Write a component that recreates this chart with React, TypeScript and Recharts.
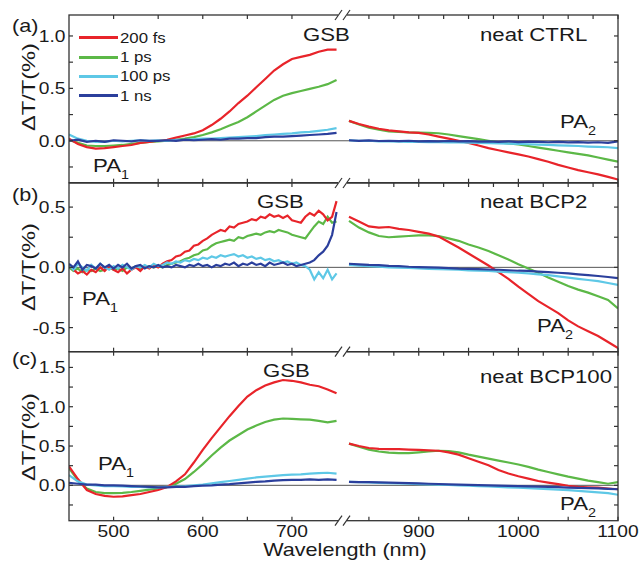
import React from 'react';
import { LineChart, Line, XAxis, YAxis, ReferenceLine, Legend } from 'recharts';

// wavelength grids (nm)
const wlLeft = [450, 460, 470, 480, 490, 500, 510, 520, 530, 540, 550, 560, 570, 580, 590, 600, 610, 620, 630, 640, 650, 660, 670, 680, 690, 700, 710, 720, 730, 740, 750];
const wlFine = [450, 455, 460, 465, 470, 475, 480, 485, 490, 495, 500, 505, 510, 515, 520, 525, 530, 535, 540, 545, 550, 555, 560, 565, 570, 575, 580, 585, 590, 595, 600, 605, 610, 615, 620, 625, 630, 635, 640, 645, 650, 655, 660, 665, 670, 675, 680, 685, 690, 695, 700, 705, 710, 715, 720, 725, 730, 735, 740, 745, 750];
const wlRight = [830, 840, 850, 860, 870, 880, 890, 900, 910, 920, 930, 940, 950, 960, 970, 980, 990, 1000, 1010, 1020, 1030, 1040, 1050, 1060, 1070, 1080, 1090, 1100];

const delays = ['200 fs', '1 ps', '100 ps', '1 ns'];

// tick values
const xTicksLeft = [500, 550, 600, 650, 700];
const xTicksRight = [850, 875, 900, 925, 950, 975, 1000, 1025, 1050, 1075, 1100];
const yTicksA = [-0.25, 0, 0.25, 0.5, 0.75, 1.0];
const yTicksB = [-0.5, -0.25, 0, 0.25, 0.5];
const yTicksC = [-0.25, 0, 0.25, 0.5, 0.75, 1.0, 1.25, 1.5];

// (a) neat CTRL
const a200fs = [0.02, -0.03, -0.06, -0.075, -0.07, -0.06, -0.05, -0.04, -0.02, -0.01, 0.0, 0.01, 0.03, 0.05, 0.07, 0.1, 0.15, 0.21, 0.28, 0.36, 0.43, 0.51, 0.59, 0.67, 0.73, 0.78, 0.8, 0.82, 0.85, 0.87, 0.87];
const a1ps = [0.01, -0.02, -0.045, -0.05, -0.05, -0.045, -0.04, -0.03, -0.02, -0.01, -0.005, 0.0, 0.01, 0.02, 0.035, 0.055, 0.08, 0.11, 0.145, 0.18, 0.225, 0.28, 0.335, 0.39, 0.43, 0.455, 0.475, 0.495, 0.515, 0.54, 0.58];
const a100ps = [0.06, 0.02, 0.0, -0.01, -0.01, 0.0, -0.005, 0.0, 0.005, 0.0, 0.005, 0.0, 0.01, 0.01, 0.015, 0.02, 0.02, 0.025, 0.03, 0.035, 0.04, 0.045, 0.055, 0.06, 0.065, 0.07, 0.08, 0.085, 0.095, 0.105, 0.12];
const a1ns = [0.0, 0.01, -0.01, 0.0, -0.01, 0.005, 0.0, -0.005, 0.005, 0.0, 0.0, 0.005, 0.0, 0.01, 0.005, 0.01, 0.015, 0.01, 0.02, 0.02, 0.025, 0.025, 0.035, 0.04, 0.04, 0.045, 0.05, 0.055, 0.06, 0.065, 0.075];
const a200fsR = [0.19, 0.16, 0.135, 0.115, 0.1, 0.09, 0.08, 0.075, 0.06, 0.04, 0.02, 0.0, -0.02, -0.045, -0.07, -0.09, -0.11, -0.13, -0.15, -0.175, -0.2, -0.23, -0.255, -0.28, -0.3, -0.32, -0.345, -0.37];
const a1psR = [0.19, 0.155, 0.125, 0.105, 0.09, 0.085, 0.08, 0.078, 0.075, 0.072, 0.06, 0.045, 0.03, 0.015, 0.0, -0.015, -0.025, -0.035, -0.05, -0.065, -0.08, -0.095, -0.11, -0.125, -0.14, -0.16, -0.18, -0.2];
const a100psR = [0.005, 0.0, 0.0, -0.005, -0.005, -0.008, -0.01, -0.01, -0.012, -0.012, -0.015, -0.015, -0.018, -0.02, -0.022, -0.025, -0.028, -0.03, -0.033, -0.036, -0.04, -0.043, -0.047, -0.05, -0.055, -0.058, -0.062, -0.07];
const a1nsR = [0.005, 0.0, 0.003, -0.002, 0.0, -0.003, 0.0, -0.005, -0.003, -0.005, -0.002, -0.006, -0.004, -0.008, -0.005, -0.01, -0.006, -0.012, -0.008, -0.01, -0.014, -0.01, -0.015, -0.012, -0.018, -0.014, -0.02, -0.005];

// (b) neat BCP2 (left part on the 5 nm grid)
const b200fs = [0.02, -0.02, -0.05, -0.03, -0.06, -0.02, -0.04, 0.0, -0.03, 0.01, -0.02, -0.04, -0.01, -0.05, -0.02, 0.0, -0.03, 0.01, -0.01, 0.02, 0.0, 0.03, 0.05, 0.06, 0.09, 0.1, 0.13, 0.14, 0.18, 0.19, 0.22, 0.24, 0.27, 0.29, 0.31, 0.3, 0.34, 0.33, 0.36, 0.37, 0.38, 0.4, 0.39, 0.42, 0.41, 0.44, 0.42, 0.43, 0.41, 0.43, 0.39, 0.38, 0.37, 0.42, 0.45, 0.43, 0.47, 0.44, 0.39, 0.42, 0.55];
const b1ps = [0.0, -0.03, -0.01, -0.04, -0.02, -0.03, -0.01, -0.03, -0.02, 0.0, -0.02, -0.01, -0.03, 0.0, -0.01, 0.01, -0.01, 0.0, 0.01, 0.0, 0.01, 0.0, 0.02, 0.03, 0.04, 0.05, 0.07, 0.08, 0.1, 0.11, 0.14, 0.15, 0.18, 0.2, 0.21, 0.22, 0.23, 0.22, 0.25, 0.24, 0.26, 0.27, 0.28, 0.27, 0.29, 0.3, 0.29, 0.31, 0.3, 0.29, 0.27, 0.26, 0.25, 0.24, 0.29, 0.34, 0.38, 0.36, 0.42, 0.37, 0.38];
const b100ps = [0.02, -0.02, 0.03, 0.0, -0.03, 0.02, -0.01, 0.03, 0.0, -0.02, 0.01, -0.01, 0.02, 0.0, -0.02, 0.01, 0.0, 0.02, 0.0, 0.03, 0.01, 0.02, 0.04, 0.03, 0.05, 0.04, 0.06, 0.05, 0.07, 0.06, 0.08, 0.07, 0.09, 0.08, 0.1, 0.09, 0.1, 0.11, 0.09, 0.1, 0.08, 0.09, 0.07, 0.08, 0.06, 0.07, 0.05, 0.06, 0.04, 0.05, 0.03, 0.04, 0.02, 0.01, -0.02, -0.1, -0.04, -0.09, -0.02, -0.1, -0.05];
const b1ns = [0.03, 0.0, 0.05, -0.02, 0.02, 0.01, -0.01, 0.03, 0.0, 0.02, -0.01, 0.02, 0.0, 0.03, -0.01, 0.01, 0.02, -0.01, 0.01, 0.0, 0.02, 0.0, 0.01, 0.0, 0.02, 0.01, 0.0, 0.02, 0.01, 0.03, 0.01, 0.02, 0.0, 0.02, 0.01, 0.03, 0.02, 0.04, 0.01, 0.03, 0.02, 0.04, 0.02, 0.03, 0.01, 0.04, 0.02, 0.03, 0.04, 0.02, 0.03, 0.01, 0.02, 0.03, 0.04, 0.06, 0.1, 0.13, 0.18, 0.27, 0.46];
const b200fsR = [0.42, 0.38, 0.34, 0.33, 0.335, 0.32, 0.31, 0.295, 0.28, 0.255, 0.21, 0.165, 0.115, 0.065, 0.015, -0.04, -0.095, -0.16, -0.22, -0.28, -0.33, -0.38, -0.44, -0.49, -0.53, -0.57, -0.62, -0.67];
const b1psR = [0.385, 0.33, 0.29, 0.26, 0.25, 0.255, 0.26, 0.265, 0.265, 0.26, 0.24, 0.22, 0.19, 0.165, 0.135, 0.1, 0.065, 0.025, -0.01, -0.045, -0.085, -0.12, -0.155, -0.185, -0.21, -0.24, -0.27, -0.34];
const b100psR = [0.02, 0.015, 0.01, 0.005, 0.0, -0.002, -0.005, -0.008, -0.012, -0.015, -0.018, -0.02, -0.025, -0.028, -0.03, -0.035, -0.04, -0.045, -0.05, -0.058, -0.065, -0.075, -0.085, -0.095, -0.105, -0.115, -0.13, -0.145];
const b1nsR = [0.03, 0.025, 0.02, 0.018, 0.012, 0.01, 0.005, 0.002, 0.0, -0.003, -0.006, -0.01, -0.012, -0.015, -0.018, -0.02, -0.024, -0.028, -0.03, -0.035, -0.04, -0.045, -0.05, -0.058, -0.065, -0.072, -0.08, -0.09];

// (c) neat BCP100
const c200fs = [0.24, 0.08, -0.06, -0.11, -0.135, -0.145, -0.14, -0.125, -0.11, -0.085, -0.06, -0.02, 0.05, 0.14, 0.29, 0.45, 0.6, 0.74, 0.88, 1.01, 1.13, 1.21, 1.27, 1.31, 1.34, 1.33, 1.31, 1.28, 1.26, 1.22, 1.17];
const c1ps = [0.22, 0.06, -0.04, -0.085, -0.1, -0.1, -0.095, -0.085, -0.07, -0.055, -0.04, -0.02, 0.02, 0.08, 0.17, 0.27, 0.38, 0.48, 0.57, 0.64, 0.71, 0.76, 0.805, 0.835, 0.85, 0.845, 0.84, 0.835, 0.82, 0.8, 0.82];
const c100ps = [0.13, 0.05, 0.01, 0.0, -0.01, -0.01, -0.015, -0.02, -0.02, -0.025, -0.025, -0.02, -0.015, -0.01, 0.0, 0.01, 0.025, 0.04, 0.055, 0.07, 0.085, 0.1, 0.11, 0.12, 0.13, 0.135, 0.14, 0.15, 0.155, 0.16, 0.15];
const c1ns = [0.03, 0.02, 0.01, 0.01, 0.0, 0.0, -0.005, -0.01, -0.015, -0.02, -0.025, -0.025, -0.02, -0.02, -0.01, -0.005, 0.0, 0.01, 0.015, 0.025, 0.035, 0.045, 0.05, 0.06, 0.065, 0.07, 0.07, 0.075, 0.07, 0.075, 0.07];
const c200fsR = [0.53, 0.5, 0.475, 0.465, 0.46, 0.46, 0.455, 0.45, 0.445, 0.44, 0.42, 0.39, 0.345, 0.3, 0.255, 0.195, 0.15, 0.115, 0.085, 0.055, 0.035, 0.015, -0.005, -0.02, -0.025, -0.03, -0.04, -0.05];
const c1psR = [0.53, 0.49, 0.455, 0.43, 0.415, 0.41, 0.41, 0.42, 0.43, 0.44, 0.435, 0.42, 0.39, 0.365, 0.34, 0.315, 0.29, 0.265, 0.235, 0.2, 0.17, 0.14, 0.11, 0.085, 0.06, 0.04, 0.02, 0.04];
const c100psR = [0.045, 0.04, 0.036, 0.032, 0.028, 0.024, 0.02, 0.016, 0.012, 0.008, 0.004, 0.0, -0.005, -0.01, -0.015, -0.02, -0.025, -0.03, -0.036, -0.042, -0.048, -0.055, -0.062, -0.07, -0.08, -0.09, -0.1, -0.12];
const c1nsR = [0.045, 0.042, 0.04, 0.037, 0.034, 0.03, 0.027, 0.024, 0.02, 0.017, 0.013, 0.01, 0.006, 0.003, 0.0, -0.003, -0.006, -0.01, -0.013, -0.017, -0.02, -0.024, -0.028, -0.032, -0.036, -0.04, -0.045, -0.05];

const COLORS = ['#e8242a', '#5cb847', '#5ec8e6', '#2b3f9c'];
const DRAW_ORDER = [1, 0, 2, 3];
const FONT = "'Liberation Sans', Arial, Helvetica, sans-serif";
const INK = '#1a1a1a';
const AXIS = '#333';
const SX = 1.2; // the figure's lettering is a little wide
const PLOT_L = 69;
const PLOT_R = 618;
const PAD_L_SEG = 277; // px left free for the right segment
const PAD_R_SEG = 276;

const toRows = (wl: number[], s: number[][]) =>
  wl.map((w, i) => ({ wl: w, s0: s[0][i], s1: s[1][i], s2: s[2][i], s3: s[3][i] }));

const panels = [
  {
    id: 'a', top: 0, height: 190, plotTop: 15, plotBottom: 182.7,
    yDomain: [-0.4, 1.2], yTicks: yTicksA, legend: true, xLabels: false,
    left: toRows(wlLeft, [a200fs, a1ps, a100ps, a1ns]),
    right: toRows(wlRight, [a200fsR, a1psR, a100psR, a1nsR]),
  },
  {
    id: 'b', top: 176, height: 183, plotTop: 183, plotBottom: 351.7,
    yDomain: [-0.7, 0.7], yTicks: yTicksB, legend: false, xLabels: false,
    left: toRows(wlFine, [b200fs, b1ps, b100ps, b1ns]),
    right: toRows(wlRight, [b200fsR, b1psR, b100psR, b1nsR]),
  },
  {
    id: 'c', top: 344, height: 227, plotTop: 351.7, plotBottom: 520.7,
    yDomain: [-0.45, 1.7], yTicks: yTicksC, legend: false, xLabels: true,
    left: toRows(wlLeft, [c200fs, c1ps, c100ps, c1ns]),
    right: toRows(wlRight, [c200fsR, c1psR, c100psR, c1nsR]),
  },
];

function renderLegend(props: any) {
  const seen: Record<string, any> = {};
  (props.payload || []).forEach((it: any) => {
    if (it.type !== 'none' && delays.includes(it.value) && !seen[it.value]) seen[it.value] = it;
  });
  const items = delays.filter((d) => seen[d]).map((d) => seen[d]);
  return (
    <div style={{ fontFamily: FONT, color: INK }}>
      {items.map((it: any) => (
        <div key={it.value} style={{ height: 19.4, display: 'flex', alignItems: 'center' }}>
          <div style={{ width: 39, height: 3, background: it.color }} />
          <span style={{ marginLeft: 2, fontSize: 14, display: 'inline-block', transform: `scaleX(${SX})`, transformOrigin: 'left center', whiteSpace: 'nowrap' }}>
            {it.value}
          </span>
        </div>
      ))}
    </div>
  );
}

function Panel({ p }: { p: any }) {
  const topY = p.plotTop - p.top;
  const bottomY = p.plotBottom - p.top;
  const mTop = topY;
  const mBottom = p.height - bottomY - 2; // two 1px x axes sit below the plot

  const xTick = (t: any) => {
    const v = t.payload.value;
    const x = t.x;
    return (
      <g>
        {v % 50 === 0 && <line x1={x} x2={x} y1={bottomY} y2={bottomY - 4} stroke={AXIS} strokeWidth={1.2} />}
        <line x1={x} x2={x} y1={topY} y2={topY + 4} stroke={AXIS} strokeWidth={1.2} />
        {p.xLabels && v % 100 === 0 && (
          <g transform={`translate(${x},${bottomY + 16}) scale(${SX},1)`}>
            <text x={0} y={0} textAnchor="middle" fontSize={16} fontFamily={FONT} fill={INK}>{v}</text>
          </g>
        )}
      </g>
    );
  };

  const yTick = (t: any) => {
    const v = t.payload.value;
    const y = t.y;
    const labelled = Math.abs(v * 2 - Math.round(v * 2)) < 1e-6;
    return (
      <g>
        <line x1={PLOT_L} x2={PLOT_L + 4} y1={y} y2={y} stroke={AXIS} strokeWidth={1.2} />
        <line x1={PLOT_R} x2={PLOT_R - 4} y1={y} y2={y} stroke={AXIS} strokeWidth={1.2} />
        {labelled && (
          <g transform={`translate(${PLOT_L - 3.5},${y + 6}) scale(${SX},1)`}>
            <text x={0} y={0} textAnchor="end" fontSize={16} fontFamily={FONT} fill={INK}>{v.toFixed(1)}</text>
          </g>
        )}
      </g>
    );
  };

  return (
    <div style={{ position: 'absolute', left: 0, top: p.top }}>
      <LineChart width={642} height={p.height} margin={{ top: mTop, right: 642 - PLOT_R, bottom: mBottom, left: PLOT_L - 50 }}>
        <XAxis xAxisId="L" type="number" dataKey="wl" domain={[450, 755]} allowDataOverflow
          padding={{ left: 0, right: PAD_R_SEG + 1 }} ticks={xTicksLeft} interval={0} height={1}
          axisLine={false} tickLine={false} tickSize={0} tickMargin={0} tick={xTick} />
        <XAxis xAxisId="R" type="number" dataKey="wl" domain={[826, 1100]} allowDataOverflow
          padding={{ left: PAD_L_SEG - 1, right: 0 }} ticks={xTicksRight} interval={0} height={1}
          axisLine={false} tickLine={false} tickSize={0} tickMargin={0} tick={xTick} />
        <YAxis type="number" domain={p.yDomain} allowDataOverflow ticks={p.yTicks} interval={0} width={50}
          axisLine={false} tickLine={false} tickSize={0} tick={yTick} />
        <ReferenceLine xAxisId="L" y={0} stroke="#555" strokeWidth={1} />
        {DRAW_ORDER.map((i) => (
          <Line key={'L' + i} xAxisId="L" data={p.left} dataKey={'s' + i} name={delays[i]}
            stroke={COLORS[i]} strokeWidth={2.2} dot={false} isAnimationActive={false}
            legendType={p.legend ? 'line' : 'none'} />
        ))}
        {DRAW_ORDER.map((i) => (
          <Line key={'R' + i} xAxisId="R" data={p.right} dataKey={'s' + i} name={delays[i] + ' (NIR)'}
            stroke={COLORS[i]} strokeWidth={2.2} dot={false} isAnimationActive={false} legendType="none" />
        ))}
        {p.legend && (
          <Legend layout="vertical" align="center" verticalAlign="middle" content={renderLegend}
            wrapperStyle={{ left: 79, top: 28, width: 'auto' }} />
        )}
      </LineChart>
    </div>
  );
}

function Lbl({ x, y, size = 18.5, anchor = 'start', children }: any) {
  return (
    <g transform={`translate(${x},${y}) scale(${SX},1)`}>
      <text x={0} y={0} fontSize={size} textAnchor={anchor} fontFamily={FONT} fill={INK}>{children}</text>
    </g>
  );
}

function PA({ x, y, n }: any) {
  return (
    <Lbl x={x} y={y}>
      PA<tspan fontSize={12} dy={7}>{n}</tspan>
    </Lbl>
  );
}

function Overlay() {
  const breakYs = [15, 183, 351.7, 520.7];
  return (
    <svg width={642} height={571} style={{ position: 'absolute', left: 0, top: 0, pointerEvents: 'none' }}>
      {panels.map((p) => (
        <rect key={p.id} x={PLOT_L} y={p.plotTop} width={PLOT_R - PLOT_L} height={p.plotBottom - p.plotTop}
          fill="none" stroke={AXIS} strokeWidth={1.3} />
      ))}
      {breakYs.map((y) => (
        <g key={y}>
          <rect x={338} y={y - 2} width={9} height={4} fill="#fff" />
          <line x1={335} y1={y + 5} x2={342} y2={y - 5} stroke={AXIS} strokeWidth={1.2} />
          <line x1={343} y1={y + 5} x2={350} y2={y - 5} stroke={AXIS} strokeWidth={1.2} />
        </g>
      ))}
      {[87, 267, 437].map((cy) => (
        <g key={cy} transform={`translate(35,${cy}) rotate(-90)`}>
          <text x={0} y={0} fontSize={18} textAnchor="middle" fontFamily={FONT} fill={INK}
            textLength={88} lengthAdjust="spacingAndGlyphs">ΔT/T(%)</text>
        </g>
      ))}
      <Lbl x={12} y={32} size={18}>(a)</Lbl>
      <Lbl x={12} y={201} size={18}>(b)</Lbl>
      <Lbl x={12} y={365} size={18}>(c)</Lbl>
      <Lbl x={303} y={41}>GSB</Lbl>
      <Lbl x={257} y={208}>GSB</Lbl>
      <Lbl x={263} y={377}>GSB</Lbl>
      <Lbl x={480} y={41}>neat CTRL</Lbl>
      <Lbl x={480} y={208}>neat BCP2</Lbl>
      <Lbl x={480} y={383}>neat BCP100</Lbl>
      <PA x={93} y={172} n="1" />
      <PA x={82} y={305} n="1" />
      <PA x={98} y={470} n="1" />
      <PA x={560} y={128} n="2" />
      <PA x={537} y={332} n="2" />
      <PA x={560} y={510} n="2" />
      <Lbl x={345} y={556} size={18} anchor="middle">Wavelength (nm)</Lbl>
    </svg>
  );
}

export default function App() {
  return (
    <>
      <style>{'html,body{margin:0;padding:0;overflow:hidden;background:#fff}'}</style>
      <div style={{ position: 'relative', width: 642, height: 571, background: '#fff' }}>
        {panels.map((p) => (
          <Panel key={p.id} p={p} />
        ))}
        <Overlay />
      </div>
    </>
  );
}
